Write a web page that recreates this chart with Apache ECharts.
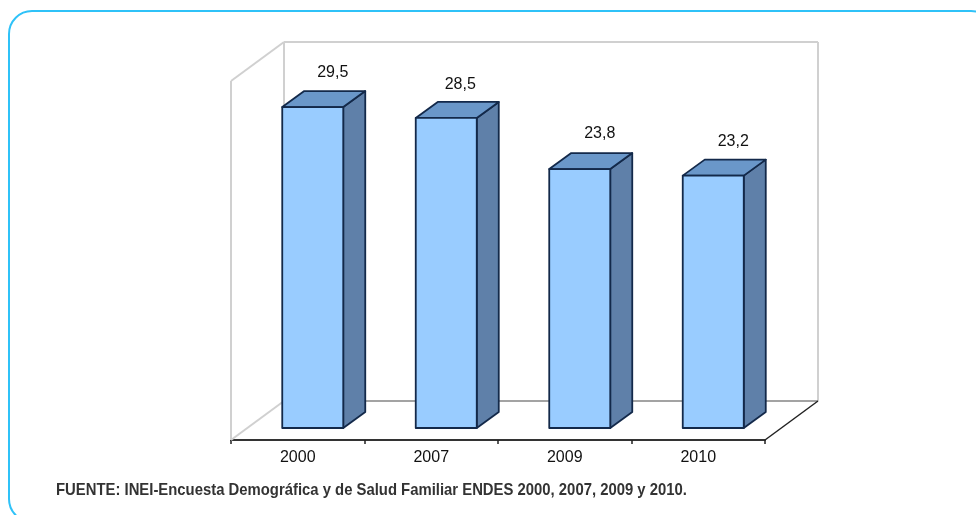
<!DOCTYPE html>
<html><head><meta charset="utf-8">
<style>html,body{margin:0;padding:0;background:#fff}#c{width:976px;height:515px}</style>
<script src="https://cdn.jsdelivr.net/npm/echarts@6/dist/echarts.min.js"></script>
</head><body><div id="c"></div>
<script>
const categories = ['2000','2007','2009','2010'];
const values = [29.5,28.5,23.8,23.2];
const source = 'FUENTE: INEI-Encuesta Demográfica y de Salud Familiar ENDES 2000, 2007, 2009 y 2010.';
const axisMax = 33;

const wallDepth = [53,-39], barInset = [15,-12], barDepth = [22,-16], barRatio = 0.457;
const labelShift = [[20,-34],[14,-33],[20,-35],[20,-34]];
const wallColor = '#d0d0d0', floorBack = '#a3a3a3', edge = '#13294a';

const chart = echarts.init(document.getElementById('c'),null,{renderer:'canvas'});
const line = (a,b,stroke,w)=>({type:'line',shape:{x1:a[0],y1:a[1],x2:b[0],y2:b[1]},style:{stroke,lineWidth:w}});
const shift=(p,d)=>[p[0]+d[0],p[1]+d[1]];

chart.setOption({
  animation:false,
  backgroundColor:'#fff',
  grid:{left:231,width:534,top:81,height:359},
  xAxis:{type:'category',data:categories,
    axisLine:{lineStyle:{color:'#333',width:2}},
    axisTick:{show:true,length:4,inside:false,lineStyle:{color:'#222',width:1.5}},
    axisLabel:{color:'#111',fontFamily:'Liberation Sans',fontSize:16,margin:10}},
  yAxis:{type:'value',min:0,max:axisMax,show:false},
  graphic:[
    {type:'rect',shape:{x:9,y:11,width:985,height:511,r:23},z:0,
     style:{fill:'none',stroke:'#2fc2f8',lineWidth:2}},
    {type:'text',x:56,y:490,scaleX:0.874,z:5,style:{text:source,fill:'#333',
     font:'bold 17px "Liberation Sans"',textVerticalAlign:'middle'}}
  ],
  series:[
    {type:'custom',coordinateSystem:'cartesian2d',data:[[0,0]],z:1,silent:true,clip:false,
     renderItem(p,api){
       const half=api.size([1,0])[0]/2;
       const bl=api.coord([0,0]); bl[0]-=half;
       const br=api.coord([categories.length-1,0]); br[0]+=half;
       const tl=api.coord([0,axisMax]); tl[0]-=half;
       const bl2=shift(bl,wallDepth), br2=shift(br,wallDepth), tl2=shift(tl,wallDepth);
       const tr2=[br2[0],tl2[1]];
       return {type:'group',children:[
         line(tl,bl,wallColor,2),
         line(tl,tl2,wallColor,2),
         line(bl,bl2,wallColor,2),
         line(tl2,bl2,wallColor,2),
         line(tl2,tr2,wallColor,2),
         line(tr2,br2,wallColor,2),
         line(bl2,br2,floorBack,2),
         line(br,br2,'#222',1.5)
       ]};
     }},
    {type:'custom',coordinateSystem:'cartesian2d',z:3,silent:true,clip:false,
     data:values.map((v,i)=>[i,v]),
     renderItem(p,api){
       const i=api.value(0), v=api.value(1);
       const w=api.size([1,0])[0]*barRatio;
       const top=shift(api.coord([i,v]),barInset), base=shift(api.coord([i,0]),barInset);
       const x0=top[0]-w/2, x1=top[0]+w/2, yt=top[1], yb=base[1];
       const [dx,dy]=barDepth;
       const face=(pts,fill)=>({type:'polygon',shape:{points:pts},
         style:{fill,stroke:edge,lineWidth:1.8,lineJoin:'round'}});
       const s=labelShift[i];
       return {type:'group',children:[
         face([[x1,yt],[x1+dx,yt+dy],[x1+dx,yb+dy],[x1,yb]],'#5f80a9'),
         face([[x0,yt],[x0+dx,yt+dy],[x1+dx,yt+dy],[x1,yt]],'#6a97c9'),
         face([[x0,yt],[x1,yt],[x1,yb],[x0,yb]],'#99ccff'),
         {type:'text',style:{text:String(v).replace('.',','),x:top[0]+s[0],y:yt+s[1],
           fill:'#111',font:'16px "Liberation Sans"',textAlign:'center',textVerticalAlign:'middle'}}
       ]};
     }}
  ]
});
</script></body></html>
